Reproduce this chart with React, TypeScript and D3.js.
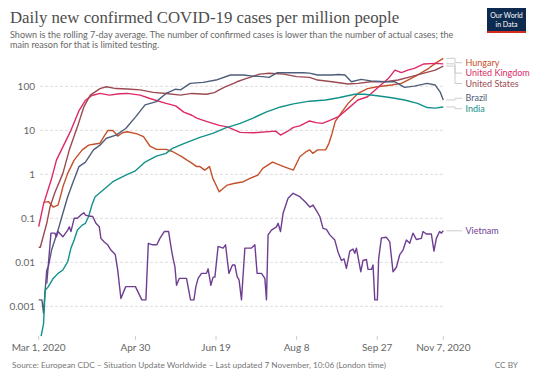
import React from "react";
import * as d3 from "d3";

const W = 536;
const H = 378;

// ---- data: [days since 1 Mar 2020, cases per million] ----
const hungary: [number, number][] = [
  [3, 0.23], [6, 0.24], [9, 0.18], [12, 0.2], [14, 0.37], [15, 0.52], [18, 1.05], [22, 2.1], [27, 3.6], [31, 4.6],
  [35, 4.9], [38, 5.1], [41, 7.8], [43, 10], [46, 9.9], [49, 7.4], [52, 8.8], [55, 9.3], [61, 8.3], [65, 7.2],
  [69, 4.4], [73, 3.7], [79, 3.7], [83, 3.3], [89, 2.5], [92, 2.1], [95, 1.8], [98, 1.5], [100, 1.5], [103, 1.25],
  [106, 1.5], [108, 0.81], [110, 0.57], [112, 0.4], [117, 0.57], [121, 0.62], [127, 0.68], [131, 0.81], [136, 0.96],
  [139, 1.37], [145, 1.9], [152, 1.5], [158, 1.25], [162, 2.5], [166, 3.3], [168, 3.6], [170, 3.0], [173, 3.6],
  [178, 3.6], [180, 5], [182, 8.5], [184, 16], [188, 26], [192, 41], [198, 69], [204, 89], [210, 98], [219, 107],
  [225, 117], [229, 139], [235, 181], [242, 257], [246, 333], [251, 434],
];
const unitedKingdom: [number, number][] = [
  [0, 0.065], [3, 0.21], [8, 0.8], [11, 2.1], [15, 4.2], [20, 10], [25, 28], [29, 48], [33, 62], [38, 69], [44, 63],
  [50, 68], [55, 69], [63, 63], [69, 53], [79, 41], [85, 36], [90, 26], [95, 22], [98, 19], [104, 16], [112, 13],
  [117, 12], [125, 9], [133, 8.8], [147, 9.6], [150, 7.8], [154, 9.3], [158, 11.7], [162, 12.6], [168, 16.3],
  [172, 15], [176, 14.4], [181, 17], [186, 20.4], [192, 31.6], [198, 49], [204, 58], [211, 98], [217, 152],
  [221, 234], [225, 204], [229, 234], [233, 257], [239, 323], [246, 333], [251, 325],
];
const unitedStates: [number, number][] = [
  [0, 0.022], [1, 0.022], [5, 0.077], [7, 0.18], [10, 0.38], [15, 1.05], [19, 3.6], [24, 12], [28, 34], [32, 63],
  [38, 89], [42, 98], [48, 89], [55, 87], [63, 83], [71, 73], [79, 69], [88, 63], [95, 69], [104, 66], [109, 72],
  [112, 83], [116, 98], [121, 117], [123, 127], [129, 152], [131, 160], [137, 190], [143, 199], [152, 190],
  [160, 166], [168, 160], [173, 139], [182, 127], [192, 113], [198, 117], [206, 127], [215, 127], [223, 139],
  [231, 166], [239, 199], [246, 234], [251, 289],
];
const brazil: [number, number][] = [
  [0, 0.0014], [2, 0.0014], [3, 0.0007], [4, 0.0023], [5, 0.0067], [6, 0.008], [8, 0.019], [10, 0.032], [12, 0.054],
  [15, 0.13], [18, 0.31], [21, 0.62], [25, 1.5], [29, 1.9], [34, 3.6], [38, 4.6], [42, 6.6], [48, 7.8], [54, 11],
  [60, 20], [66, 38], [73, 45], [79, 69], [85, 86], [88, 83], [94, 117], [102, 123], [110, 139], [119, 181],
  [127, 181], [133, 171], [139, 166], [143, 160], [148, 204], [156, 204], [164, 204], [168, 200], [173, 181],
  [182, 181], [186, 186], [190, 181], [194, 127], [200, 144], [206, 133], [215, 127], [221, 127], [227, 95],
  [233, 101], [241, 117], [246, 107], [249, 75], [251, 49],
];
const india: [number, number][] = [
  [1.5, 0.00021], [3, 0.0004], [4, 0.0023], [6, 0.0028], [9, 0.0043], [12, 0.0056], [15, 0.0067], [18, 0.0103],
  [20, 0.021], [22, 0.032], [24, 0.054], [27, 0.07], [29, 0.077], [31, 0.11], [33, 0.2], [35, 0.31], [40, 0.44],
  [46, 0.68], [54, 0.96], [60, 1.2], [66, 1.9], [73, 2.6], [79, 3], [83, 3.9], [90, 5], [100, 6.9], [108, 8.5],
  [116, 11.4], [125, 14.4], [133, 19], [141, 26], [150, 34], [158, 40], [168, 46], [178, 49], [186, 55], [196, 66],
  [202, 66], [210, 61], [219, 55], [227, 49], [235, 41], [241, 33], [246, 32], [251, 34],
];
const vietnam: [number, number][] = [
  [5, 0.0033], [7.6, 0.046], [10, 0.046], [11, 0.038], [12, 0.05], [15, 0.038], [18, 0.054], [19, 0.064], [20, 0.05],
  [22, 0.1], [24, 0.1], [26, 0.118], [28, 0.134], [29, 0.118], [31, 0.113], [33.5, 0.11], [35.5, 0.077],
  [37.6, 0.064], [38.6, 0.035], [40.7, 0.029], [42.8, 0.025], [44.8, 0.019], [47.5, 0.015], [49, 0.0067],
  [51, 0.0015], [54, 0.0028], [60, 0.0028], [64, 0.0014], [66.5, 0.0014], [68, 0.027], [70.7, 0.025], [73.3, 0.025],
  [75.2, 0.035], [77.9, 0.05], [80.6, 0.05], [82.4, 0.019], [83.4, 0.012], [84.5, 0.008], [85.5, 0.003],
  [87.2, 0.0043], [91.7, 0.0043], [94.2, 0.0014], [96.3, 0.0014], [97.5, 0.0028], [98.9, 0.0043], [101, 0.0056],
  [104.1, 0.0056], [105.1, 0.0071], [106.8, 0.003], [108.2, 0.0046], [109.3, 0.0046], [111.3, 0.023], [114.4, 0.021],
  [115.9, 0.025], [118, 0.0056], [120.2, 0.0087], [121.7, 0.0087], [123.1, 0.0047], [124.3, 0.004], [125.8, 0.0014],
  [127.9, 0.021], [132, 0.021], [134.1, 0.025], [135.5, 0.0056], [138.2, 0.0056], [140.3, 0.0043], [141.3, 0.0014],
  [142.3, 0.042], [144.4, 0.054], [147.5, 0.064], [148.5, 0.077], [150, 0.05], [151.6, 0.13], [154.7, 0.285],
  [157.8, 0.37], [162, 0.31], [165.1, 0.24], [168.2, 0.18], [170.2, 0.2], [172.3, 0.15], [174.4, 0.11],
  [176.4, 0.059], [178.5, 0.056], [180.6, 0.042], [183.7, 0.032], [185.7, 0.017], [187.8, 0.011], [189.4, 0.012],
  [190.9, 0.0073], [193, 0.018], [195, 0.02], [196.1, 0.016], [197.1, 0.021], [199.8, 0.0061], [201.2, 0.011],
  [203.3, 0.0116], [204.3, 0.0069], [206.4, 0.0069], [207.4, 0.0087], [208.5, 0.0014], [210.1, 0.0014],
  [210.9, 0.012], [212.6, 0.036], [215.7, 0.037], [217.8, 0.029], [219.8, 0.0061], [221.9, 0.0077], [224, 0.015],
  [226, 0.019], [228.1, 0.032], [230.2, 0.027], [232.2, 0.046], [234.3, 0.033], [237.4, 0.035], [238.4, 0.05],
  [240.5, 0.044], [243.6, 0.044], [245.2, 0.018], [246.7, 0.035], [248.7, 0.05], [249.8, 0.046], [251, 0.052],
];

const countries = ["Hungary", "United Kingdom", "United States", "Brazil", "India", "Vietnam"];
const seriesValues = [hungary, unitedKingdom, unitedStates, brazil, india, vietnam];
const colors = ["#c4502a", "#dc2a66", "#9c4a52", "#4f5d7a", "#12918a", "#6d3e91"];

const yTicks = [0.001, 0.01, 0.1, 1, 10, 100];
const yTickLabels = ["0.001", "0.01", "0.1", "1", "10", "100"];
const xTickDates = ["2020-03-01", "2020-04-30", "2020-06-19", "2020-08-08", "2020-09-27", "2020-11-07"];
const xTickLabels = ["Mar 1, 2020", "Apr 30", "Jun 19", "Aug 8", "Sep 27", "Nov 7, 2020"];

const title = "Daily new confirmed COVID-19 cases per million people";
const subtitle1 = "Shown is the rolling 7-day average. The number of confirmed cases is lower than the number of actual cases; the";
const subtitle2 = "main reason for that is limited testing.";
const source = "Source: European CDC – Situation Update Worldwide – Last updated 7 November, 10:06 (London time)";

const START = Date.UTC(2020, 2, 1);
const DAY = 86400000;
const toDate = (d: number) => new Date(START + d * DAY);

const SANS = "Lato, 'Liberation Sans', Arial, sans-serif";

export default function App() {
  const x = d3
    .scaleUtc()
    .domain([new Date(START), new Date(xTickDates[xTickDates.length - 1] + "T00:00:00Z")])
    .range([38.7, 443.3]);

  const all = seriesValues.flat().map((p) => p[1]);
  const y = d3
    .scaleLog()
    .domain([d3.min(all) as number, d3.max(all) as number])
    .range([336.1, 58.3]);

  const line = d3
    .line<[number, number]>()
    .x((d) => x(toDate(d[0])))
    .y((d) => y(d[1]));

  // label placement with overlap resolution
  const h = 10.4;
  const minY = y.range()[1] + 4.4;
  const items = seriesValues
    .map((s, i) => ({ i, want: y(s[s.length - 1][1]) }))
    .sort((a, b) => a.want - b.want);
  type G = { members: typeof items; top: number };
  const groups: G[] = [];
  for (const it of items) {
    groups.push({ members: [it], top: Math.max(it.want, minY) });
    while (groups.length > 1) {
      const a = groups[groups.length - 2];
      const b = groups[groups.length - 1];
      if (a.top + a.members.length * h > b.top) {
        const members = [...a.members, ...b.members];
        const mean = d3.mean(members, (m) => m.want) as number;
        let top = mean - ((members.length - 1) * h) / 2;
        if (top < minY) top = minY;
        groups.splice(groups.length - 2, 2, { members, top });
      } else break;
    }
  }
  const labelY: number[] = [];
  groups.forEach((g) => g.members.forEach((m, k) => (labelY[m.i] = g.top + k * h)));

  const xEnd = x(toDate(251));

  return (
    <svg width={W} height={H} style={{ position: "absolute", left: 0, top: 0, background: "#fff" }}>
      <rect x={0} y={0} width={W} height={H} fill="#fff" />
      <text x={10} y={23} fontFamily="'Liberation Serif', 'Times New Roman', serif" fontSize={16.8} fill="#4d4d4d">
        {title}
      </text>
      <text x={10} y={37.5} fontFamily={SANS} fontSize={9.05} fill="#666">
        {subtitle1}
      </text>
      <text x={10} y={48} fontFamily={SANS} fontSize={9.05} fill="#666">
        {subtitle2}
      </text>

      {/* logo */}
      <rect x={487} y={8} width={39} height={25} fill="#0d2a4f" />
      <rect x={487} y={31} width={39} height={2} fill="#d42b21" />
      <text x={506.5} y={17.5} textAnchor="middle" fontFamily={SANS} fontSize={7} fill="#fff">
        Our World
      </text>
      <text x={506.5} y={26.5} textAnchor="middle" fontFamily={SANS} fontSize={7} fill="#fff">
        in Data
      </text>

      {/* grid + y axis */}
      {yTicks.map((t, i) => (
        <g key={t}>
          <line x1={40} x2={443.3} y1={y(t)} y2={y(t)} stroke="#ddd" strokeDasharray="3,2" strokeWidth={1} />
          <text x={35} y={y(t)} dy="0.35em" textAnchor="end" fontFamily={SANS} fontSize={10} fill="#666">
            {yTickLabels[i]}
          </text>
        </g>
      ))}

      {/* x axis */}
      {xTickDates.map((d, i) => {
        const xx = x(new Date(d + "T00:00:00Z"));
        return (
          <g key={d}>
            <line x1={xx} x2={xx} y1={336} y2={340} stroke="#ccc" />
            <text x={xx} y={350.5} textAnchor="middle" fontFamily={SANS} fontSize={10} fill="#666">
              {xTickLabels[i]}
            </text>
          </g>
        );
      })}

      {/* lines */}
      {seriesValues.map((s, i) => (
        <path key={countries[i]} d={line(s) || ""} fill="none" stroke={colors[i]} strokeWidth={1.4} strokeLinejoin="round" />
      ))}

      {/* labels */}
      {seriesValues.map((s, i) => {
        const ye = y(s[s.length - 1][1]);
        const ly = labelY[i];
        return (
          <g key={"l" + i}>
            <path d={`M${xEnd + 3},${ye}H455V${ly}H462`} fill="none" stroke="#ccc" strokeWidth={1} />
            <text x={465.5} y={ly} dy="0.35em" fontFamily={SANS} fontSize={9} fill={colors[i]}>
              {countries[i]}
            </text>
          </g>
        );
      })}

      {/* footer */}
      <text x={12} y={367.5} fontFamily={SANS} fontSize={8.25} fill="#777">
        {source}
      </text>
      <text x={518} y={367.5} textAnchor="end" fontFamily={SANS} fontSize={8.25} fill="#777">
        CC BY
      </text>
    </svg>
  );
}
